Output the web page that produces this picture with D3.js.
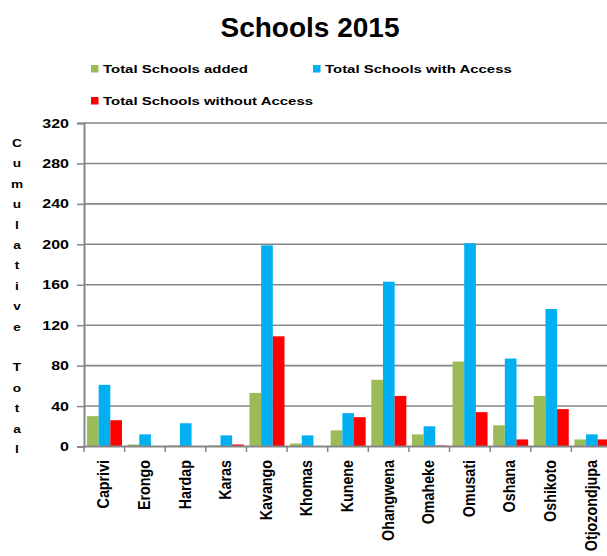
<!DOCTYPE html>
<html><head><meta charset="utf-8">
<script src="https://cdn.jsdelivr.net/npm/d3@7/dist/d3.min.js"></script>
<style>body{margin:0;background:#fff}svg{display:block}text{font-family:"Liberation Sans",Arial,sans-serif}</style>
</head><body>
<svg id="c" width="607" height="556"></svg>
<script>
const categories = ["Caprivi","Erongo","Hardap","Karas","Kavango","Khomas","Kunene","Ohangwena","Omaheke","Omusati","Oshana","Oshikoto","Otjozondjupa"];
const seriesNames = ["Total Schools added","Total Schools with Access","Total Schools without Access"];
const added = [30,2,1,1,53,3,16,66,12,84,21,50,7];
const withAccess = [61,12,23,11,199,11,33,163,20,201,87,136,12];
const withoutAccess = [26,0,0,2,109,0,29,50,1,34,7,37,7];
const yTicks = [0,40,80,120,160,200,240,280,320];
const colors = ["#9BBB59","#00B0F0","#FF0000"];
const yTitle = "Cumulative Total";

const svg = d3.select("#c");
const grey = "#868686";
const x = d3.scaleBand().domain(categories).range([84, 612]).padding(0);
const xs = d3.scaleBand().domain(seriesNames).range([3, 38]).padding(0);
const y = d3.scaleLinear().domain([0,320]).range([446.5, 123]);

// gridlines
svg.append("g").selectAll("line").data(yTicks.filter(d=>d>0)).join("line")
  .attr("x1",84).attr("x2",612).attr("y1",d=>y(d)).attr("y2",d=>y(d))
  .attr("stroke",grey).attr("stroke-width",1.6);

// bars
const data = categories.map((c,i)=>({c, v:[added[i],withAccess[i],withoutAccess[i]]}));
const g = svg.append("g").selectAll("g").data(data).join("g")
  .attr("transform",d=>`translate(${x(d.c)},0)`);
g.selectAll("rect").data(d=>d.v.map((v,k)=>({v,k}))).join("rect")
  .attr("x",d=>xs(seriesNames[d.k])).attr("width",xs.bandwidth())
  .attr("y",d=>y(d.v)).attr("height",d=>y(0)-y(d.v))
  .attr("fill",d=>colors[d.k]);

// y axis
const ya = svg.append("g").attr("transform","translate(84,0)")
  .call(d3.axisLeft(y).tickValues(yTicks).tickSize(7).tickFormat(""));
ya.select(".domain").attr("stroke",grey).attr("stroke-width",2);
ya.selectAll(".tick line").attr("stroke",grey).attr("stroke-width",1.5);
svg.append("g").selectAll("text").data(yTicks).join("text")
  .attr("transform",d=>`translate(69,${y(d)+4.5}) scale(1.28,1)`)
  .attr("text-anchor","end").attr("font-weight","bold").attr("font-size",12.5)
  .attr("fill","#000").text(d=>d);

// x axis
svg.append("line").attr("x1",84).attr("x2",612).attr("y1",y(0)).attr("y2",y(0))
  .attr("stroke",grey).attr("stroke-width",2);
svg.append("g").selectAll("line").data(categories).join("line")
  .attr("x1",d=>x(d)).attr("x2",d=>x(d)).attr("y1",y(0)).attr("y2",y(0)+5.5)
  .attr("stroke",grey).attr("stroke-width",1.5);
svg.append("g").selectAll("text").data(categories).join("text")
  .attr("transform",d=>`translate(${x(d)+x.bandwidth()/2+5},460) rotate(-90) scale(1,1.15)`)
  .attr("text-anchor","end").attr("font-weight","bold").attr("font-size",14.3)
  .attr("fill","#000").text(d=>d);

// y title (stacked letters)
svg.append("g").selectAll("text").data(yTitle.split("")).join("text")
  .attr("transform",(d,i)=>`translate(17,${147+i*20.4}) scale(1.3,1)`)
  .attr("text-anchor","middle").attr("font-weight","bold").attr("font-size",10.5)
  .attr("fill","#000").text(d=>d);

// title
svg.append("text").attr("x",310).attr("y",37).attr("text-anchor","middle")
  .attr("font-weight","bold").attr("font-size",28).attr("fill","#000").text("Schools 2015");

// legend
const legPos = [[91,65],[313,65],[91,97]];
const lg = svg.append("g").selectAll("g").data(seriesNames).join("g")
  .attr("transform",(d,i)=>`translate(${legPos[i][0]},${legPos[i][1]})`);
lg.append("rect").attr("width",7.5).attr("height",7.5).attr("fill",(d,i)=>colors[i]);
lg.append("text").attr("transform","translate(12,8) scale(1.3,1)")
  .attr("font-weight","bold").attr("font-size",11.5).attr("fill","#000").text(d=>d);
</script>
</body></html>
